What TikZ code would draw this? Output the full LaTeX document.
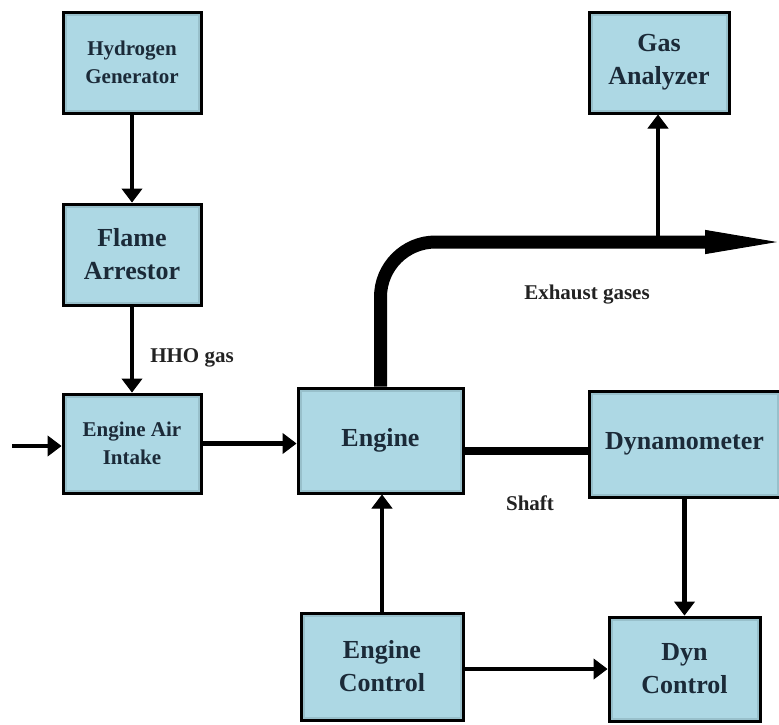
\documentclass[tikz,border=0pt]{standalone}
\usepackage{fontspec}
\setmainfont{Liberation Serif}[BoldFont={Liberation Serif Bold}]
\usetikzlibrary{arrows.meta}
\definecolor{boxfill}{HTML}{ADD8E4}
\definecolor{boxedge}{HTML}{7FA3AE}
\definecolor{boxtext}{HTML}{1B2A38}
\definecolor{lbltext}{HTML}{222222}
\tikzset{
  blk/.style={draw=black, line width=3pt, fill=boxfill, text=boxtext, align=center,
    inner sep=0pt, font=\bfseries\fontsize{26}{33}\selectfont,
    path picture={\draw[boxedge, line width=7pt, opacity=0.45]
      (path picture bounding box.south west) rectangle (path picture bounding box.north east);}},
  smallblk/.style={blk, font=\bfseries\fontsize{21}{28}\selectfont},
  arr/.style={draw=black, line width=4.5pt, -{Triangle[length=14pt,width=21pt,line width=1pt]}},
  lbl/.style={text=lbltext, font=\bfseries\fontsize{21}{26}\selectfont, inner sep=0pt},
}
\begin{document}
\begin{tikzpicture}[x=1pt,y=-1pt]
\useasboundingbox (0,0) rectangle (779,724);
\node[smallblk, minimum width=138pt, minimum height=101pt] (hg) at (132,62.5) {Hydrogen\\Generator};
\node[blk, minimum width=138pt, minimum height=101pt] (fa) at (132,254.5) {Flame\\Arrestor};
\node[smallblk, minimum width=138pt, minimum height=99pt] (eai) at (132,443.5) {Engine Air\\Intake};
\node[blk, minimum width=165pt, minimum height=105pt] (eng) at (380.5,440.5) {Engine};
\node[blk, minimum width=191pt, minimum height=106pt] (dyn) at (684.5,444) {Dynamometer};
\node[blk, minimum width=140pt, minimum height=101pt] (ga) at (659,62.5) {Gas\\Analyzer};
\node[blk, minimum width=162pt, minimum height=107pt] (ec) at (382,666.5) {Engine\\Control};
\node[blk, minimum width=151pt, minimum height=104pt] (dc) at (684.5,669) {Dyn\\Control};

\coordinate (in) at (12,446);
\coordinate (exend) at (777,242);
\coordinate (tap) at (658,242);

\draw[arr] (hg) -- (fa);
\draw[arr] (fa) -- (eai);
\draw[arr] (in) -- (in -| eai.west);
\draw[arr] (eai.east) -- (eai.east -| eng.west);
\draw[line width=13pt, rounded corners=55pt, -{Triangle[length=72pt,width=24pt,line width=1pt]}] (eng.north) |- (exend);
\draw[arr] (tap) -- (tap |- ga.south);
\draw[line width=8pt] ([yshift=-10.5pt]eng.east) -- ([yshift=-10.5pt]eng.east -| dyn.west);
\draw[arr] (dc.north |- dyn.south) -- (dc.north);
\draw[arr] (ec.north) -- (ec.north |- eng.south);
\draw[arr] (ec.east |- dc.west) -- (dc.west);

\node[lbl] (hho) at (192,358) {HHO gas};
\node[lbl] (exh) at (587,295) {Exhaust gases};
\node[lbl] (sh) at (530,503) {Shaft};
\end{tikzpicture}
\end{document}
